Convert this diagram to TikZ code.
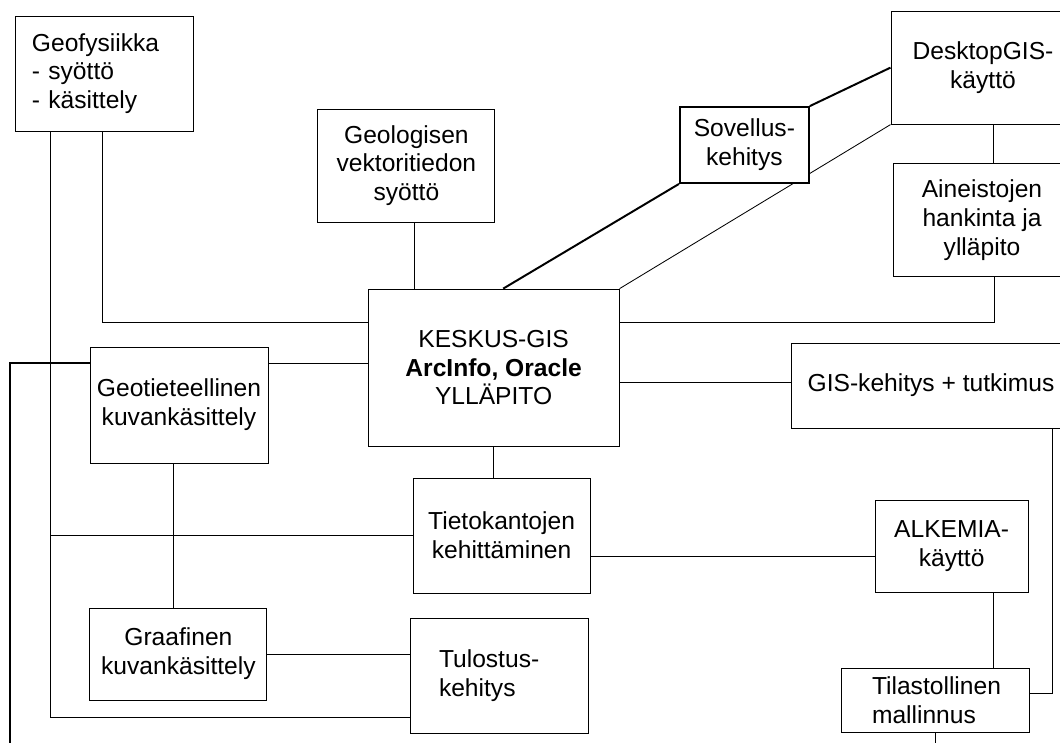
\documentclass[tikz,border=0pt]{standalone}
\usepackage{fontspec}
\setmainfont{Liberation Sans}
\tikzset{
  box/.style={draw, line width=0.7pt, fill=white, align=center, inner sep=0pt, font=\fontsize{17.5}{20.5}\selectfont},
  leftbox/.style={box, align=left},
  link/.style={line width=0.6pt},
  heavy/.style={line width=1.4pt}
}
\begin{document}
\begin{tikzpicture}
\useasboundingbox (0,0) rectangle (26.5,-18.575);
\node[leftbox, minimum width=4.45cm, minimum height=2.875cm, text width=3.6cm, inner xsep=0.425cm] (geofys) at (2.6,-1.84) {Geofysiikka\\- syöttö\\- käsittely};
\node[box, minimum width=4.425cm, minimum height=2.825cm] (geolog) at (10.16,-4.14) {Geologisen\\vektoritiedon\\syöttö};
\node[box, minimum width=4.6cm, minimum height=2.825cm] (desktop) at (24.575,-1.69) {DesktopGIS-\\käyttö};
\node[box, minimum width=4.45cm, minimum height=2.825cm] (aineist) at (24.55,-5.51) {Aineistojen\\hankinta ja\\ylläpito};
\node[box, minimum width=6.275cm, minimum height=3.925cm] (keskus) at (12.34,-9.19) {KESKUS-GIS\\\textbf{ArcInfo, Oracle}\\YLLÄPITO};
\node[box, minimum width=4.45cm, minimum height=2.9cm] (geotiet) at (4.475,-10.125) {Geotieteellinen\\kuvankäsittely};
\node[box, minimum width=7.0cm, minimum height=2.125cm] (giskeh) at (23.275,-9.64) {GIS-kehitys + tutkimus};
\node[box, minimum width=4.425cm, minimum height=2.875cm] (tietok) at (12.54,-13.39) {Tietokantojen\\kehittäminen};
\node[box, minimum width=3.825cm, minimum height=2.3cm] (alkemia) at (23.79,-13.65) {ALKEMIA-\\käyttö};
\node[box, minimum width=4.425cm, minimum height=2.3cm] (graaf) at (4.46,-16.35) {Graafinen\\kuvankäsittely};
\node[leftbox, minimum width=4.45cm, minimum height=2.875cm, text width=3.0cm, inner xsep=0.725cm] (tulostus) at (12.475,-16.89) {Tulostus-\\kehitys};
\node[leftbox, minimum width=4.7cm, minimum height=1.6cm, text width=3.15cm, inner xsep=0.775cm] (tilast) at (23.375,-17.5) {Tilastollinen\\mallinnus};

\coordinate (trunk) at ([xshift=-1.35cm]geofys.south);
\coordinate (lowleft) at (0.25,-18.575);

% thin diagonal runs behind the Sovellus box
\draw[link] (keskus.north east) -- (desktop.south west);
\node[box, line width=1.3pt, minimum width=3.225cm, minimum height=1.9cm] (sovel) at (18.61,-3.625) {Sovellus-\\kehitys};
\draw[heavy] ([xshift=0.24cm]keskus.north) -- (sovel.south west);
\draw[heavy] (sovel.north east) -- (desktop.west);

\draw[link] ([xshift=-0.05cm]geofys.south) |- ([yshift=1.14cm]keskus.west);
\draw[link] ([yshift=1.14cm]keskus.east) -| ([xshift=0.3cm]aineist.south);
\draw[link] (trunk) |- ([yshift=-1.04cm]tulostus.west);
\draw[link] (tietok.west) -- (tietok.west -| trunk);
\draw[heavy] ([yshift=1.05cm]geotiet.west) -| (lowleft);
\draw[link] ([yshift=1.05cm]geotiet.east) -- ([yshift=1.05cm]geotiet.east -| keskus.west);
\draw[link] ([xshift=-0.15cm]geotiet.south) -- ([xshift=-0.15cm]geotiet.south |- graaf.north);
\draw[link] (graaf.east) -- (graaf.east -| tulostus.west);
\draw[link] ([xshift=0.19cm]geolog.south) -- ([xshift=0.19cm]geolog.south |- keskus.north);
\draw[link] (keskus.south) -- (keskus.south |- tietok.north);
\draw[link] ([yshift=-0.36cm]keskus.east) -- ([yshift=-0.36cm]keskus.east -| giskeh.west);
\draw[link] ([yshift=-0.51cm]tietok.east) -- ([yshift=-0.51cm]tietok.east -| alkemia.west);
\draw[link] ([xshift=1.04cm]alkemia.south) -- ([xshift=1.04cm]alkemia.south |- tilast.north);
\draw[link] ([xshift=3.025cm]giskeh.south) |- ([yshift=0.175cm]tilast.east);
\draw[link] ([xshift=0.25cm]desktop.south) -- ([xshift=0.25cm]desktop.south |- aineist.north);
\draw[link] (tilast.south) -- (tilast.south |- lowleft);
\end{tikzpicture}
\end{document}
